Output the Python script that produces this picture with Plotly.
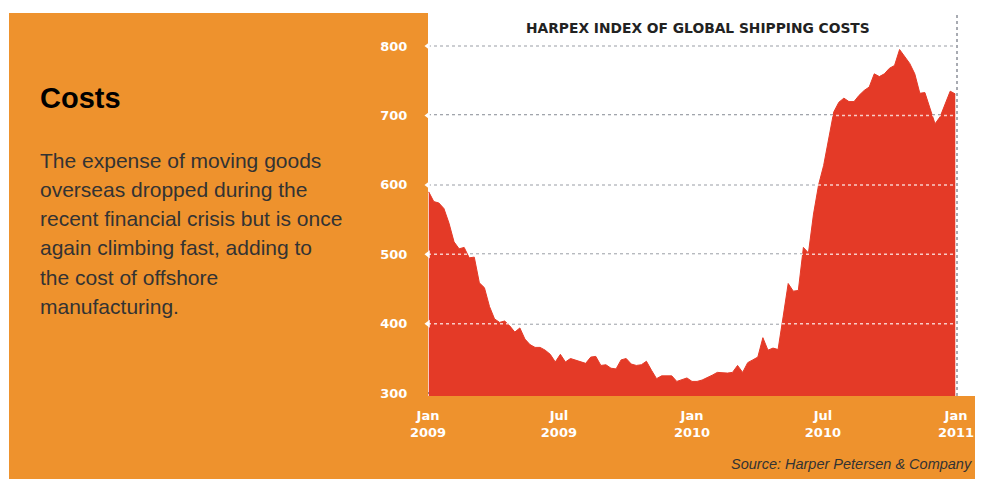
import pandas as pd
import plotly.graph_objects as go

# ---- data (weekly Harpex index) ----
start_date = "2009-01-02"
harpex = [590, 576, 574, 566, 545, 518, 508, 510, 495, 496,
          459, 452, 425, 407, 402, 404, 397, 388, 394, 378,
          370, 366, 366, 362, 356, 345, 356, 345, 350, 348,
          346, 343, 352, 353, 340, 341, 336, 335, 348, 350,
          342, 340, 341, 346, 333, 321, 325, 325, 325, 317,
          320, 322, 317, 317, 319, 322, 326, 330, 329, 329,
          330, 340, 330, 344, 348, 352, 380, 362, 365, 363,
          410, 458, 447, 448, 510, 502, 558, 600, 628, 665,
          705, 719, 725, 720, 720, 729, 736, 741, 760, 756,
          760, 768, 772, 795, 785, 775, 760, 732, 733, 710,
          688, 698, 718, 735, 731]
dates = pd.date_range(start_date, periods=len(harpex), freq="7D")

y_ticks = [300, 400, 500, 600, 700, 800]
x_tick_dates = ["2009-01-01", "2009-07-01", "2010-01-01", "2010-07-01", "2011-01-01"]
x_tick_labels = ["Jan<br>2009", "Jul<br>2009", "Jan<br>2010", "Jul<br>2010", "Jan<br>2011"]

title = "HARPEX INDEX OF GLOBAL SHIPPING COSTS"
heading = "Costs"
body_lines = ["The expense of moving goods",
              "overseas dropped during the",
              "recent financial crisis but is once",
              "again climbing fast, adding to",
              "the cost of offshore",
              "manufacturing."]
source = "Source: Harper Petersen & Company"

ORANGE = "#EE922D"
RED = "#E43A27"
GRID = "#8C9099"

OFF = 8  # page body margin
W, H = 983 - OFF, 479 - OFF
L, R, T, B = 428 - OFF, 27, 13 - OFF, 83
PW, PH = W - L - R, H - T - B


def px(x):  # x in screen (reference) pixels -> paper
    return (x - OFF - L) / PW


def py(y):
    return (H - B - (y - OFF)) / PH


fig = go.Figure()

fig.add_trace(go.Scatter(
    x=dates, y=harpex, mode="lines", fill="tozeroy",
    line=dict(color=RED, width=1), fillcolor=RED, hoverinfo="skip",
    showlegend=False))

# notches on the axes
fig.add_trace(go.Scatter(
    x=[pd.Timestamp("2009-01-01")] * 5, y=y_ticks[1:], mode="markers",
    marker=dict(symbol="triangle-left", size=7, color="white"),
    cliponaxis=False, showlegend=False, hoverinfo="skip"))
fig.add_trace(go.Scatter(
    x=pd.to_datetime(x_tick_dates[1:4]), y=[292] * 3, mode="markers",
    marker=dict(symbol="triangle-down", size=8, color=RED),
    cliponaxis=False, showlegend=False, hoverinfo="skip"))

shapes = []
# orange panels
shapes.append(dict(type="rect", xref="paper", yref="paper", layer="below",
                   x0=px(9), x1=px(428), y0=py(490), y1=py(13),
                   fillcolor=ORANGE, line=dict(width=0)))
shapes.append(dict(type="rect", xref="paper", yref="paper", layer="below",
                   x0=px(9), x1=px(990), y0=py(490), y1=0,
                   fillcolor=ORANGE, line=dict(width=0)))
# white dotted grid over the red fill
for v in y_ticks[1:]:
    shapes.append(dict(type="line", xref="paper", yref="y", layer="above",
                       x0=0, x1=1, y0=v, y1=v,
                       line=dict(color="rgba(255,255,255,0.75)", width=1.5, dash="dot")))
# right dotted border
shapes.append(dict(type="line", xref="paper", yref="paper", layer="above",
                   x0=px(957), x1=px(957), y0=0, y1=1,
                   line=dict(color=GRID, width=1.5, dash="dot")))

annotations = [
    dict(text="<b>" + title + "</b>", x=px(698), y=py(28), xref="paper", yref="paper",
         showarrow=False, xanchor="center", yanchor="middle",
         font=dict(family="DejaVu Sans", size=13.8, color="#222222")),
    dict(text="<b>" + heading + "</b>", x=px(38), y=py(98), xref="paper", yref="paper",
         showarrow=False, xanchor="left", yanchor="middle",
         font=dict(family="Liberation Sans", size=29, color="#000000")),
    dict(text="<i>" + source + "</i>", x=px(974), y=py(464), xref="paper", yref="paper",
         showarrow=False, xanchor="right", yanchor="middle",
         font=dict(family="Liberation Sans", size=14.5, color="#333333")),
]
for i, line in enumerate(body_lines):
    annotations.append(dict(text=line, x=px(38), y=py(160 + i * 29.3),
                            xref="paper", yref="paper", showarrow=False,
                            xanchor="left", yanchor="middle",
                            font=dict(family="Liberation Sans", size=21, color="#333333")))

fig.update_layout(
    width=W, height=H,
    margin=dict(l=L, r=R, t=T, b=B, pad=0),
    paper_bgcolor="white", plot_bgcolor="white",
    shapes=shapes, annotations=annotations, showlegend=False,
    xaxis=dict(type="date", range=["2009-01-01", "2011-01-01"],
               tickvals=pd.to_datetime(x_tick_dates), ticktext=x_tick_labels,
               showgrid=False, zeroline=False, showline=False,
               ticks="outside", ticklen=7, tickcolor="rgba(0,0,0,0)",
               tickfont=dict(family="DejaVu Sans", size=13, color="white", weight="bold")),
    yaxis=dict(range=[296, 847.6], tickvals=y_ticks, ticktext=[str(v) for v in y_ticks],
               showgrid=True, gridcolor=GRID, griddash="dot", gridwidth=1.5,
               zeroline=False, showline=False,
               ticks="outside", ticklen=8, tickcolor="rgba(0,0,0,0)",
               ticklabelstandoff=9,
               tickfont=dict(family="DejaVu Sans", size=13, color="white", weight="bold")),
)

fig.write_html("out.html")
